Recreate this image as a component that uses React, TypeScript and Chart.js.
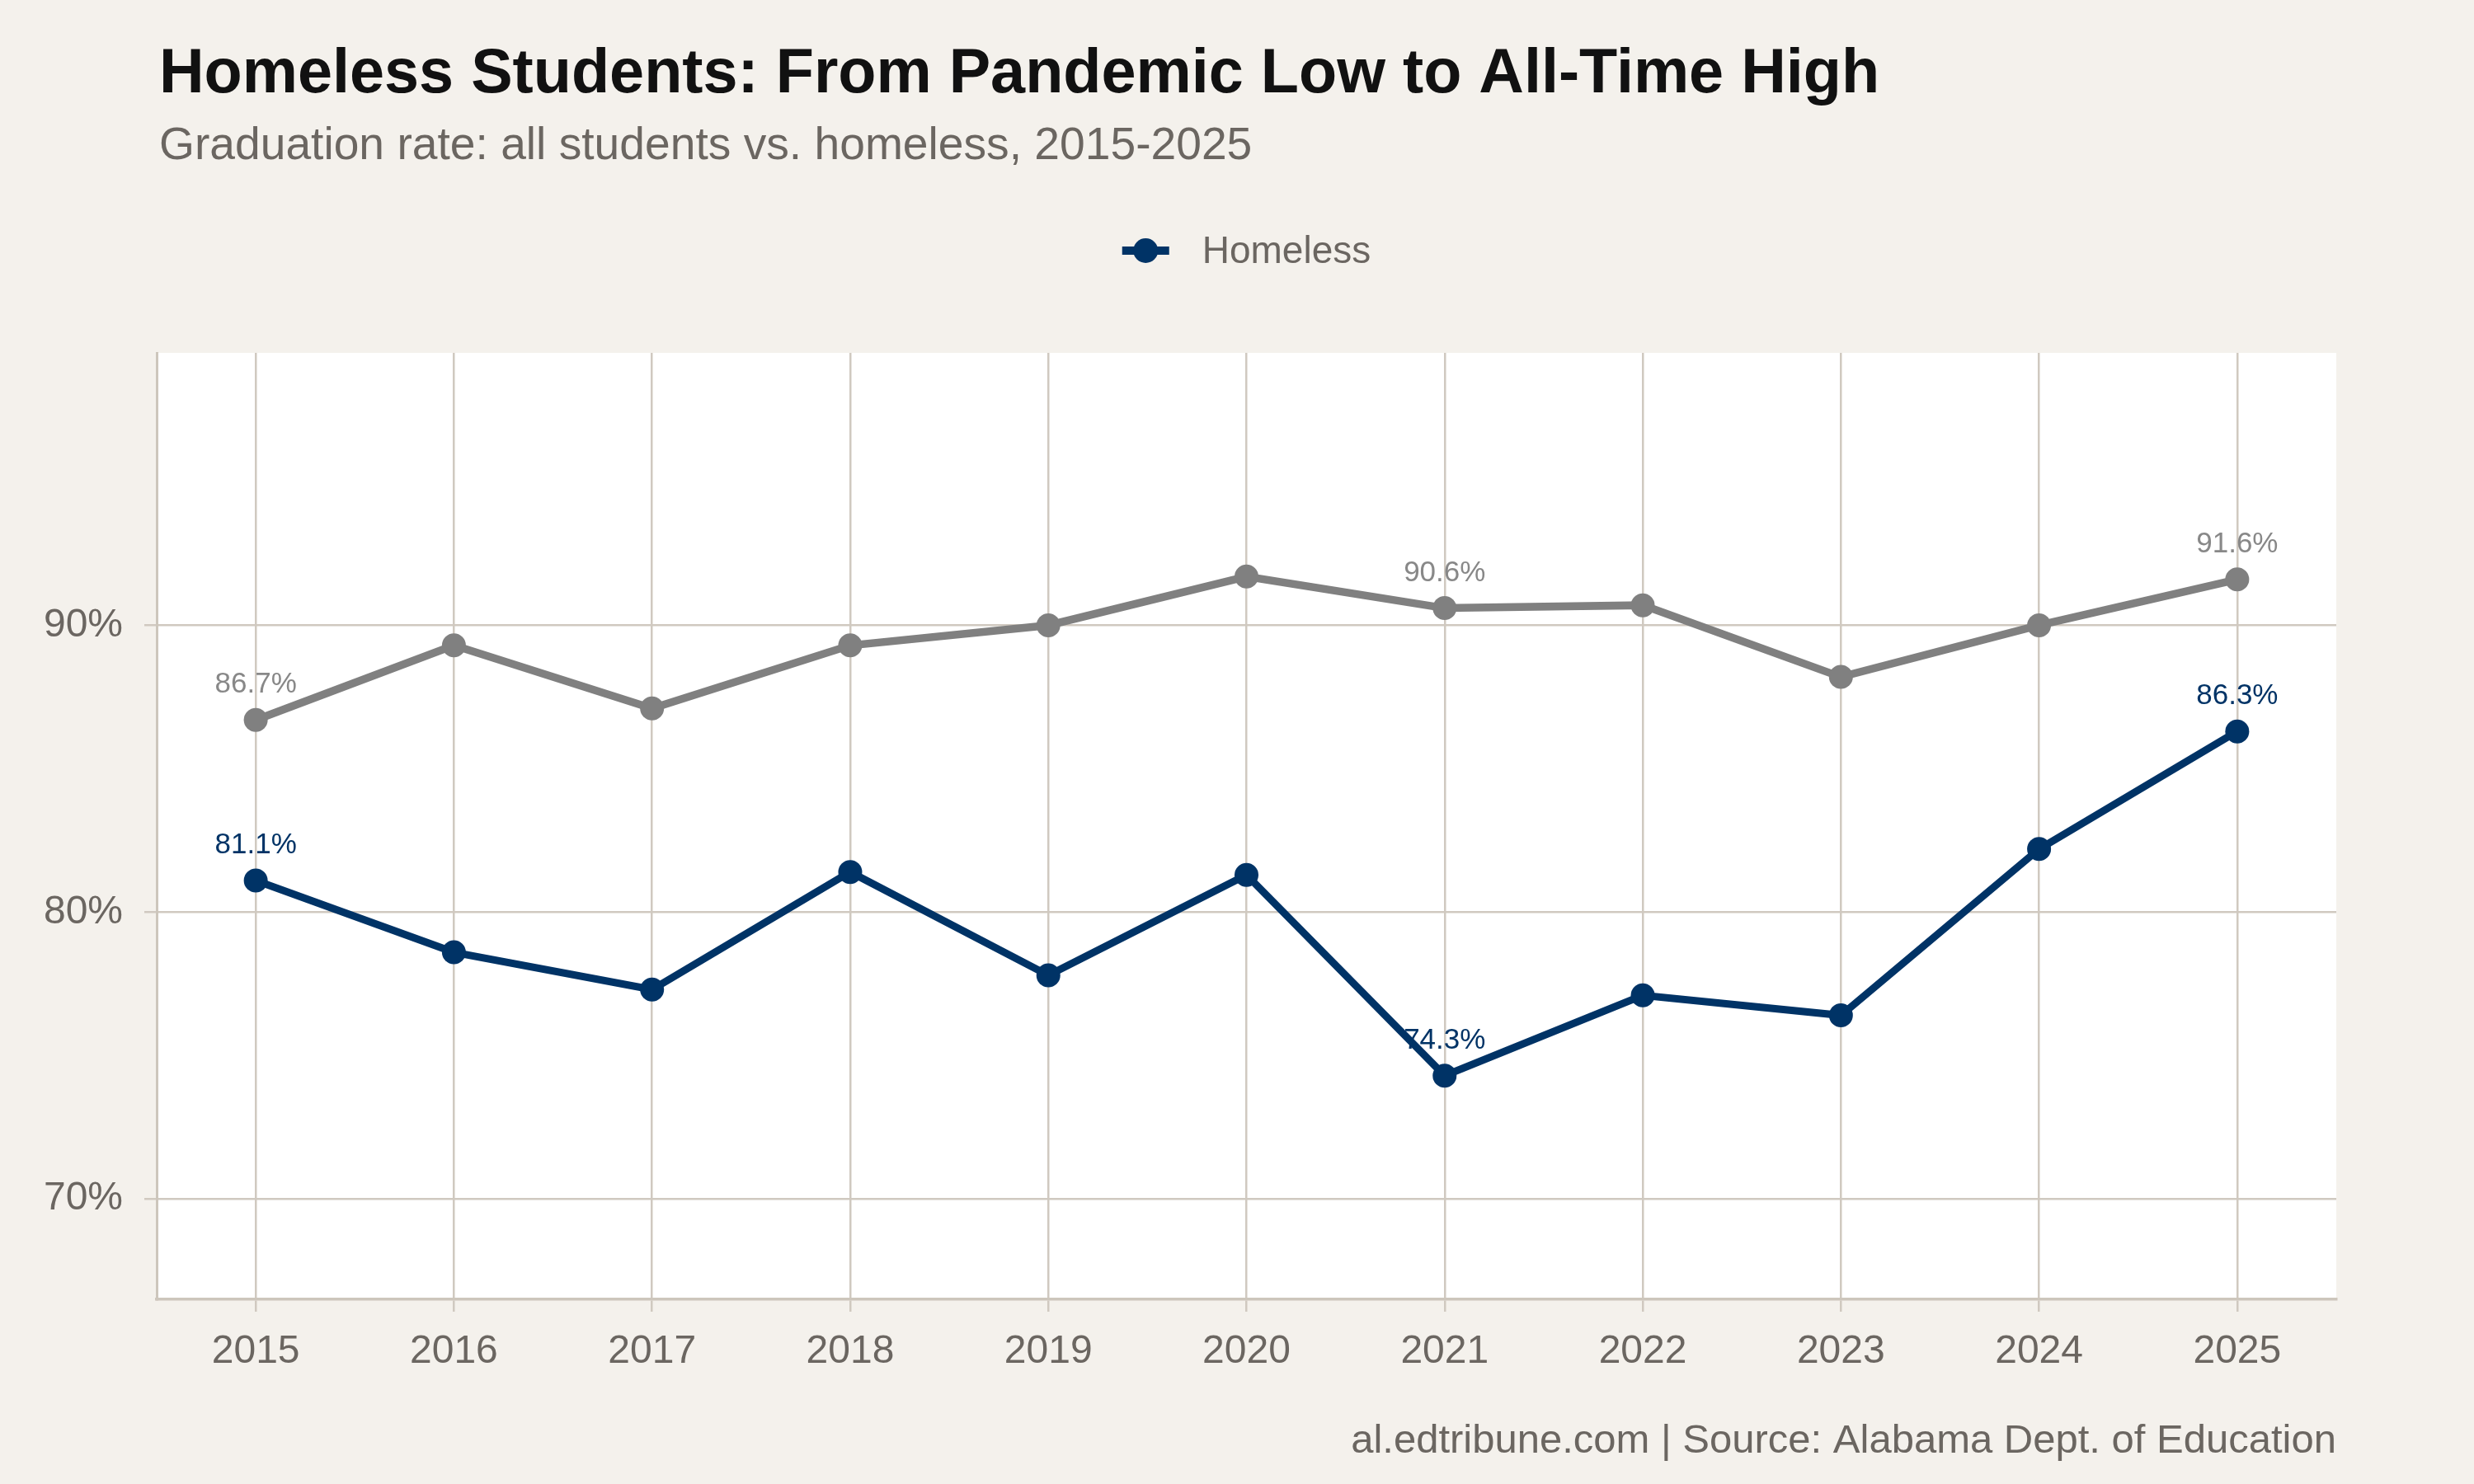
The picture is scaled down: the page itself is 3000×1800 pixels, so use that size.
import { useEffect, useRef } from "react";
import { Chart, registerables } from "chart.js";

Chart.register(...registerables);

// Graduation rates by year (percent)
const years = ["2015", "2016", "2017", "2018", "2019", "2020", "2021", "2022", "2023", "2024", "2025"];
const allStudents = [86.7, 89.3, 87.1, 89.3, 90.0, 91.7, 90.6, 90.7, 88.2, 90.0, 91.6];
const homeless = [81.1, 78.6, 77.3, 81.4, 77.8, 81.3, 74.3, 77.1, 76.4, 82.2, 86.3];
const yTicks = [70, 80, 90];
const labeledYears = ["2015", "2021", "2025"];

const titleText = "Homeless Students: From Pandemic Low to All-Time High";
const subtitleText = "Graduation rate: all students vs. homeless, 2015-2025";
const captionText = "al.edtribune.com | Source: Alabama Dept. of Education";
const legendText = "Homeless";

const FONT = '"Liberation Sans", Arial, Helvetica, sans-serif';
const BG = "#f4f1ec";
const GRID = "#d0c9c0";
const AXIS = "#cdc6bc";
const TEXT = "#6b6661";
const NAVY = "#003366";
const GREY = "#808080";

const W = 3000;
const H = 1800;

const decorPlugin = {
  id: "decor",
  beforeDraw(chart: any) {
    const { ctx, chartArea } = chart;
    ctx.save();
    ctx.fillStyle = BG;
    ctx.fillRect(0, 0, chart.width, chart.height);
    ctx.fillStyle = "#ffffff";
    ctx.fillRect(chartArea.left, chartArea.top, chartArea.right - chartArea.left, chartArea.bottom - chartArea.top);
    ctx.restore();
  },
  afterDraw(chart: any) {
    const { ctx, chartArea } = chart;
    ctx.save();
    ctx.textBaseline = "alphabetic";

    // title + subtitle, aligned with the plot's left edge
    ctx.textAlign = "left";
    ctx.fillStyle = "#111111";
    ctx.font = `bold 75.6px ${FONT}`;
    ctx.fillText(titleText, chartArea.left + 3, 112);
    ctx.fillStyle = TEXT;
    ctx.font = `55.2px ${FONT}`;
    ctx.fillText(subtitleText, chartArea.left + 3, 193);

    // legend: line with a dot, centred over the plot
    ctx.font = `46px ${FONT}`;
    const textW = ctx.measureText(legendText).width;
    const swatchW = 57;
    const gap = 40;
    const total = swatchW + gap + textW;
    const cx = (chartArea.left + chartArea.right) / 2;
    const x0 = cx - total / 2;
    const ly = 304;
    ctx.strokeStyle = NAVY;
    ctx.lineWidth = 10;
    ctx.beginPath();
    ctx.moveTo(x0, ly);
    ctx.lineTo(x0 + swatchW, ly);
    ctx.stroke();
    ctx.fillStyle = NAVY;
    ctx.beginPath();
    ctx.arc(x0 + swatchW / 2, ly, 15, 0, Math.PI * 2);
    ctx.fill();
    ctx.fillStyle = TEXT;
    ctx.textBaseline = "middle";
    ctx.fillText(legendText, x0 + swatchW + gap, ly + 2);

    // caption, right-aligned to the plot
    ctx.textBaseline = "alphabetic";
    ctx.textAlign = "right";
    ctx.font = `49px ${FONT}`;
    ctx.fillStyle = TEXT;
    ctx.fillText(captionText, chartArea.right, 1762);
    ctx.restore();
  },
};

const valueLabelPlugin = {
  id: "valueLabels",
  afterDatasetsDraw(chart: any) {
    const { ctx } = chart;
    ctx.save();
    ctx.font = `35px ${FONT}`;
    ctx.textAlign = "center";
    ctx.textBaseline = "alphabetic";
    chart.data.datasets.forEach((ds: any, di: number) => {
      const meta = chart.getDatasetMeta(di);
      meta.data.forEach((pt: any, i: number) => {
        if (!labeledYears.includes(years[i])) return;
        ctx.fillStyle = ds.labelColor;
        ctx.fillText(`${ds.data[i].toFixed(1)}%`, pt.x, pt.y - 33);
      });
    });
    ctx.restore();
  },
};

export default function App() {
  const canvasRef = useRef<HTMLCanvasElement | null>(null);

  useEffect(() => {
    const canvas = canvasRef.current;
    if (!canvas) return;
    const chart = new Chart(canvas, {
      type: "line",
      data: {
        labels: years,
        datasets: [
          {
            label: "All students",
            data: allStudents,
            borderColor: GREY,
            backgroundColor: GREY,
            pointBackgroundColor: GREY,
            borderWidth: 9.5,
            pointRadius: 14.5,
            pointBorderWidth: 0,
            tension: 0,
            labelColor: "#888888",
          } as any,
          {
            label: "Homeless",
            data: homeless,
            borderColor: NAVY,
            backgroundColor: NAVY,
            pointBackgroundColor: NAVY,
            borderWidth: 9,
            pointRadius: 14.5,
            pointBorderWidth: 0,
            tension: 0,
            labelColor: NAVY,
          } as any,
        ],
      },
      options: {
        animation: false,
        responsive: false,
        maintainAspectRatio: false,
        devicePixelRatio: 1,
        events: [],
        layout: { padding: { top: 428, left: 0, right: 167, bottom: 114 } },
        plugins: {
          legend: { display: false },
          title: { display: false },
          tooltip: { enabled: false },
        },
        scales: {
          x: {
            type: "category",
            offset: true,
            afterFit(scale: any) {
              scale.height = 110;
            },
            grid: { color: GRID, lineWidth: 2.5, offset: false, tickLength: 15, drawTicks: true },
            border: { display: true, color: AXIS, width: 3.5 },
            ticks: { color: TEXT, font: { family: FONT, size: 48 }, padding: 20, maxRotation: 0 },
          },
          y: {
            type: "linear",
            min: 66.5,
            max: 99.5,
            afterFit(scale: any) {
              scale.width = 190;
            },
            afterBuildTicks(scale: any) {
              scale.ticks = yTicks.map((v) => ({ value: v }));
            },
            grid: { color: GRID, lineWidth: 2.5, tickLength: 15, drawTicks: true },
            border: { display: true, color: AXIS, width: 3 },
            ticks: {
              color: TEXT,
              font: { family: FONT, size: 48 },
              padding: 26,
              callback: (v: any) => `${v}%`,
            },
          },
        },
      },
      plugins: [decorPlugin, valueLabelPlugin],
    });
    return () => chart.destroy();
  }, []);

  return (
    <div style={{ position: "absolute", left: 0, top: 0, width: W, height: H, background: BG }}>
      <canvas ref={canvasRef} width={W} height={H} style={{ width: W, height: H, display: "block" }} />
    </div>
  );
}
